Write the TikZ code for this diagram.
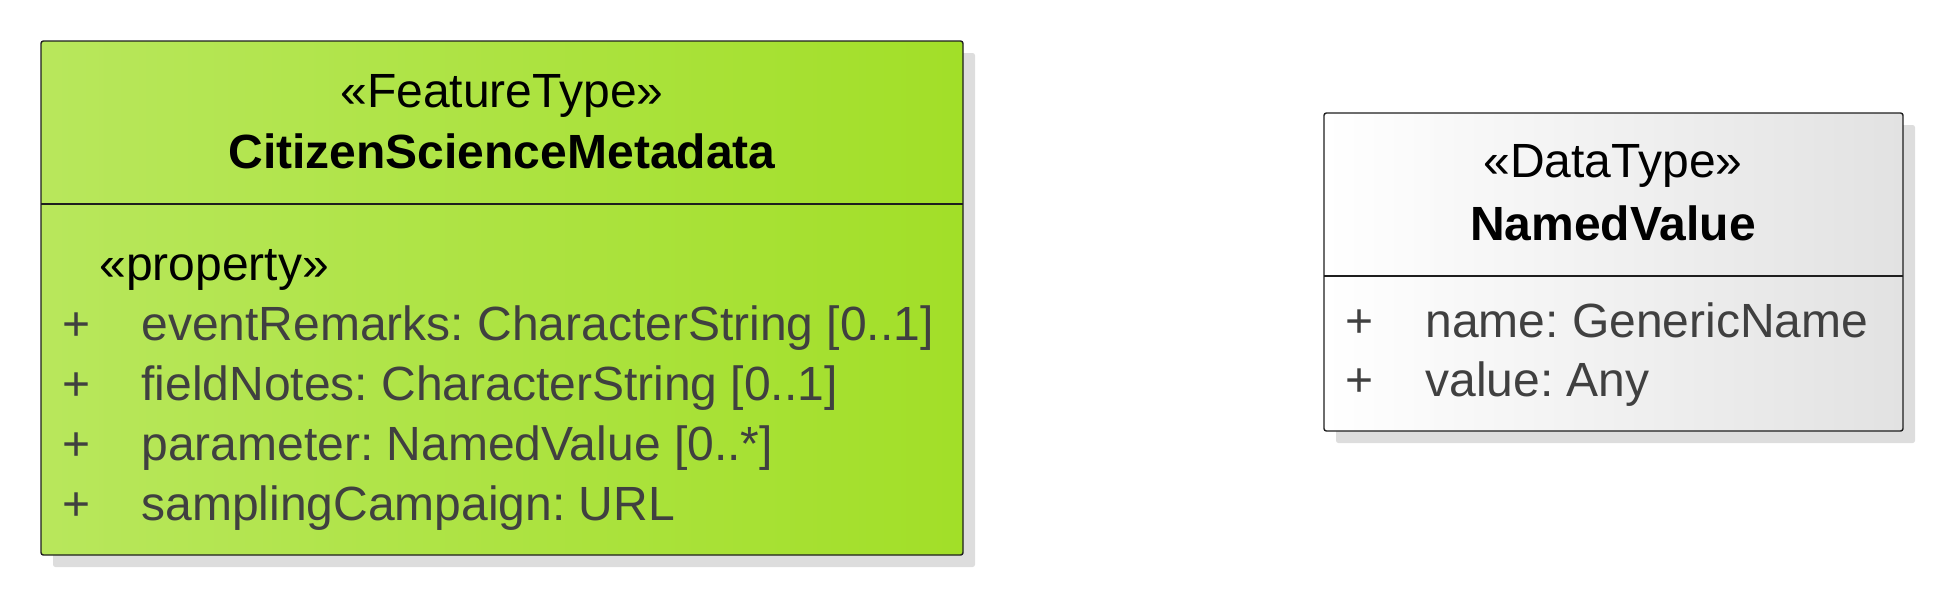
\documentclass[tikz,border=0pt]{standalone}
\usepackage{fontspec}
\setmainfont{Liberation Sans}
\definecolor{greenL}{RGB}{184,231,92}
\definecolor{greenR}{RGB}{162,223,40}
\definecolor{greyR}{RGB}{226,226,226}
\definecolor{shadowc}{RGB}{221,221,221}
\definecolor{attrc}{RGB}{64,64,64}
\definecolor{linec}{RGB}{30,30,30}
\frenchspacing
\begin{document}
\begin{tikzpicture}[x=0.5pt,y=-0.5pt,
  txt/.style={inner sep=0pt, anchor=base, font=\fontsize{24}{28}\selectfont\frenchspacing},
  namebf/.style={txt, font=\fontsize{24}{28}\selectfont\bfseries},
  attr/.style={txt, anchor=base west, text=attrc},
  plus/.style={txt, anchor=base west, text=attrc},
  boxline/.style={draw=linec, line width=0.7pt, rounded corners=1.2pt},
  shadowbox/.style={fill=shadowc, rounded corners=1.2pt},
  divider/.style={draw=linec, line width=0.6pt}]
\useasboundingbox (0,0) rectangle (1944,596);

% ---- CitizenScienceMetadata ----
\path[shadowbox] (53,53) rectangle (975,567);
\path[boxline, left color=greenL, right color=greenR] (41,41) rectangle (963,555);
\draw[divider] (41,204) -- (963,204);
\node[txt] (ft) at (502,107) {«FeatureType»};
\node[namebf] (csm) at (502,168) {CitizenScienceMetadata};
\node[txt, anchor=base west] (prop) at (99,280) {«property»};
\node[plus] (p1) at (62,340) {+};
\node[attr] (a1) at (141,340) {eventRemarks: CharacterString [0..1]};
\node[plus] (p2) at (62,400) {+};
\node[attr] (a2) at (141,400) {fieldNotes: CharacterString [0..1]};
\node[plus] (p3) at (62,460) {+};
\node[attr] (a3) at (141,460) {parameter: NamedValue [0..*]};
\node[plus] (p4) at (62,520) {+};
\node[attr] (a4) at (141,520) {samplingCampaign: URL};

% ---- NamedValue ----
\path[shadowbox] (1336,125) rectangle (1915,443);
\path[boxline, left color=white, right color=greyR] (1324,113) rectangle (1903,431);
\draw[divider] (1324,276) -- (1903,276);
\node[txt] (dt) at (1613,177) {«DataType»};
\node[namebf] (nv) at (1613,240) {NamedValue};
\node[plus] (q1) at (1345,337) {+};
\node[attr] (b1) at (1425,337) {name: GenericName};
\node[plus] (q2) at (1345,396) {+};
\node[attr] (b2) at (1425,396) {value: Any};
\end{tikzpicture}
\end{document}
